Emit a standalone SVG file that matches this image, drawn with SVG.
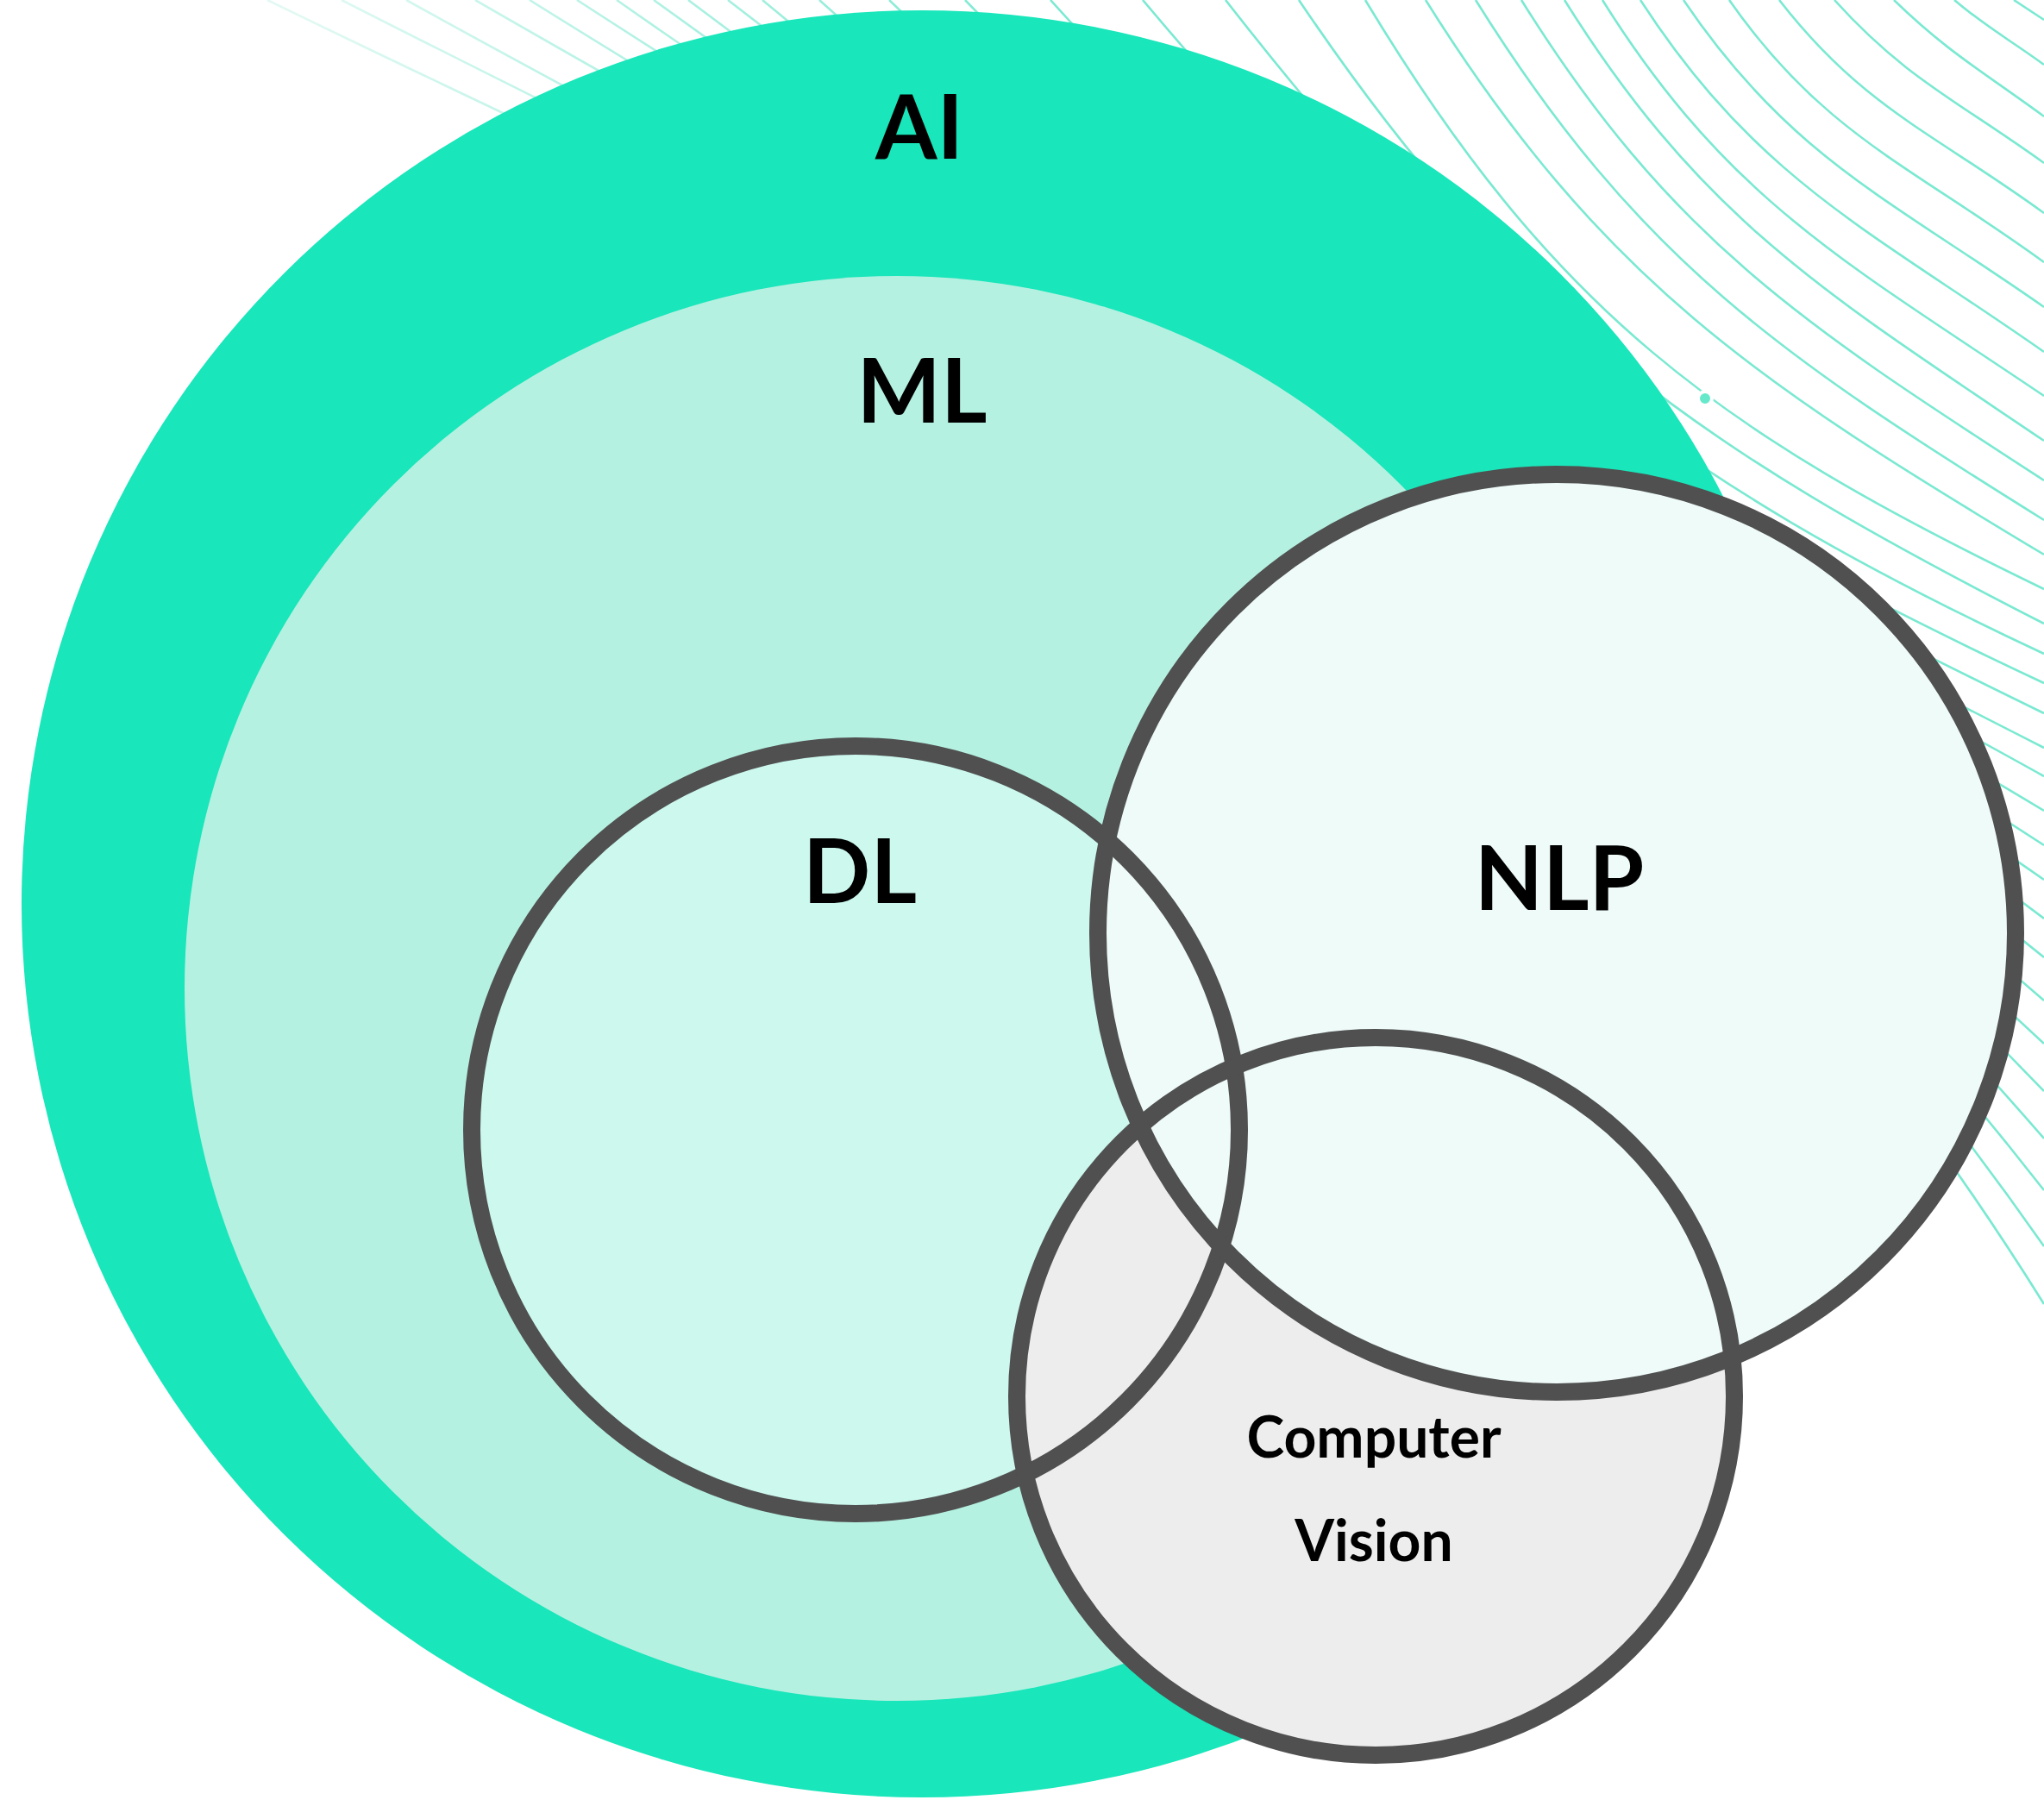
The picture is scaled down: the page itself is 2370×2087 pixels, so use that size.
<svg xmlns="http://www.w3.org/2000/svg" width="2370" height="2087" viewBox="0 0 2370 2087">
  <defs>
    <linearGradient id="lineFade" gradientUnits="userSpaceOnUse" x1="350" y1="0" x2="1200" y2="0">
      <stop offset="0" stop-color="#E2F9F3"/>
      <stop offset="1" stop-color="#7AE9D1"/>
    </linearGradient>
    <style>
      .wave { fill: none; stroke: url(#lineFade); stroke-width: 2.6; }
      .outline { fill: none; stroke: #505050; stroke-width: 20; }
      .label { font-family: Lato, "Liberation Sans", sans-serif; font-weight: 700; fill: #000000; text-anchor: middle; }
      .big { font-size: 103px; }
      .small { font-size: 66px; }
    </style>
  </defs>

  <rect x="0" y="0" width="2370" height="2087" fill="#FFFFFF"/>

  <!-- decorative flow lines behind the circles -->
  <g id="background-lines">
    <path class="wave" d="M2335,0 L2370,23"/>
    <path class="wave" d="M2266,0 C2305,33 2329,45 2370,75"/>
    <path class="wave" d="M2196,0 C2259,61 2299,83 2370,135"/>
    <path class="wave" d="M2127,0 C2209,91 2270,117 2370,189"/>
    <path class="wave" d="M2063,0 C2160,125 2242,154 2370,247"/>
    <path class="wave" d="M2005,0 C2114,156 2216,192 2370,304"/>
    <path class="wave" d="M1952,0 C2075,182 2190,230 2370,356"/>
    <path class="wave" d="M1902,0 C2037,208 2167,266 2370,408"/>
    <path class="wave" d="M1858,0 C2004,233 2142,305 2370,459"/>
    <path class="wave" d="M1814,0 C1974,256 2120,342 2370,511"/>
    <path class="wave" d="M1764,0 C1938,279 2094,378 2370,557"/>
    <path class="wave" d="M1711,0 C1900,303 2067,414 2370,603"/>
    <path class="wave" d="M1653,0 C1857,326 2040,445 2370,643"/>
    <path class="wave" d="M1583,0 C1800,360 1990,500 2370,683"/>
    <path class="wave" d="M1506,0 C1758,374 1968,518 2370,723"/>
    <path class="wave" d="M1421,0 C1720,383 1930,552 2370,758"/>
    <path class="wave" d="M1325,0 C1662,401 1895,570 2370,792"/>
    <path class="wave" d="M1218,0 C1597,421 1860,579 2370,827"/>
    <path class="wave" d="M1119,0 C1542,438 1827,591 2370,867"/>
    <path class="wave" d="M1031,0 C1495,448 1806,587 2370,900"/>
    <path class="wave" d="M950,0 C1456,456 1786,589 2370,940"/>
    <path class="wave" d="M884,0 C1429,458 1773,592 2370,980"/>
    <path class="wave" d="M844,0 C1422,452 1769,599 2370,1020"/>
    <path class="wave" d="M798,0 C1405,458 1763,607 2370,1065"/>
    <path class="wave" d="M758,0 C1391,460 1762,618 2370,1110"/>
    <path class="wave" d="M715,0 C1377,464 1760,630 2370,1160"/>
    <path class="wave" d="M669,0 C1370,455 1760,641 2370,1210"/>
    <path class="wave" d="M614,0 C1348,459 1768,642 2370,1265"/>
    <path class="wave" d="M551,0 C1330,450 1780,641 2370,1320"/>
    <path class="wave" d="M471,0 C1293,455 1792,640 2370,1380"/>
    <path class="wave" d="M396,0 C1267,444 1809,644 2370,1445"/>
    <path class="wave" d="M310,0 C1229,448 1828,645 2370,1512"/>
    <circle cx="1977" cy="462" r="8" fill="#66E8CB" stroke="#FFFFFF" stroke-width="4"/>
  </g>

  <g id="ai">
    <ellipse cx="1069" cy="1048" rx="1044" ry="1036" fill="#19E6BA"/>
    <text class="label big" x="1066" y="184">AI</text>
  </g>

  <g id="ml">
    <circle cx="1040" cy="1146" r="826" fill="#B5F1E1"/>
    <text class="label big" x="1069" y="490">ML</text>
  </g>

  <g id="dl">
    <circle cx="992" cy="1310" r="445" fill="#CCF8EE"/>
    <text class="label big" x="997" y="1047">DL</text>
  </g>

  <g id="cv">
    <circle cx="1595" cy="1619" r="416" fill="#EDEDED"/>
    <text class="label small" x="1593" y="1690">Computer</text>
    <text class="label small" x="1593" y="1810">Vision</text>
  </g>

  <g id="nlp">
    <circle cx="1805" cy="1082" r="532" fill="#EEFBF9"/>
    <text class="label big" x="1808" y="1055">NLP</text>
  </g>

  <!-- rings drawn last so every overlap keeps its border -->
  <g id="outlines">
    <circle class="outline" cx="992" cy="1310" r="445"/>
    <circle class="outline" cx="1595" cy="1619" r="416"/>
    <circle class="outline" cx="1805" cy="1082" r="532"/>
  </g>
</svg>
